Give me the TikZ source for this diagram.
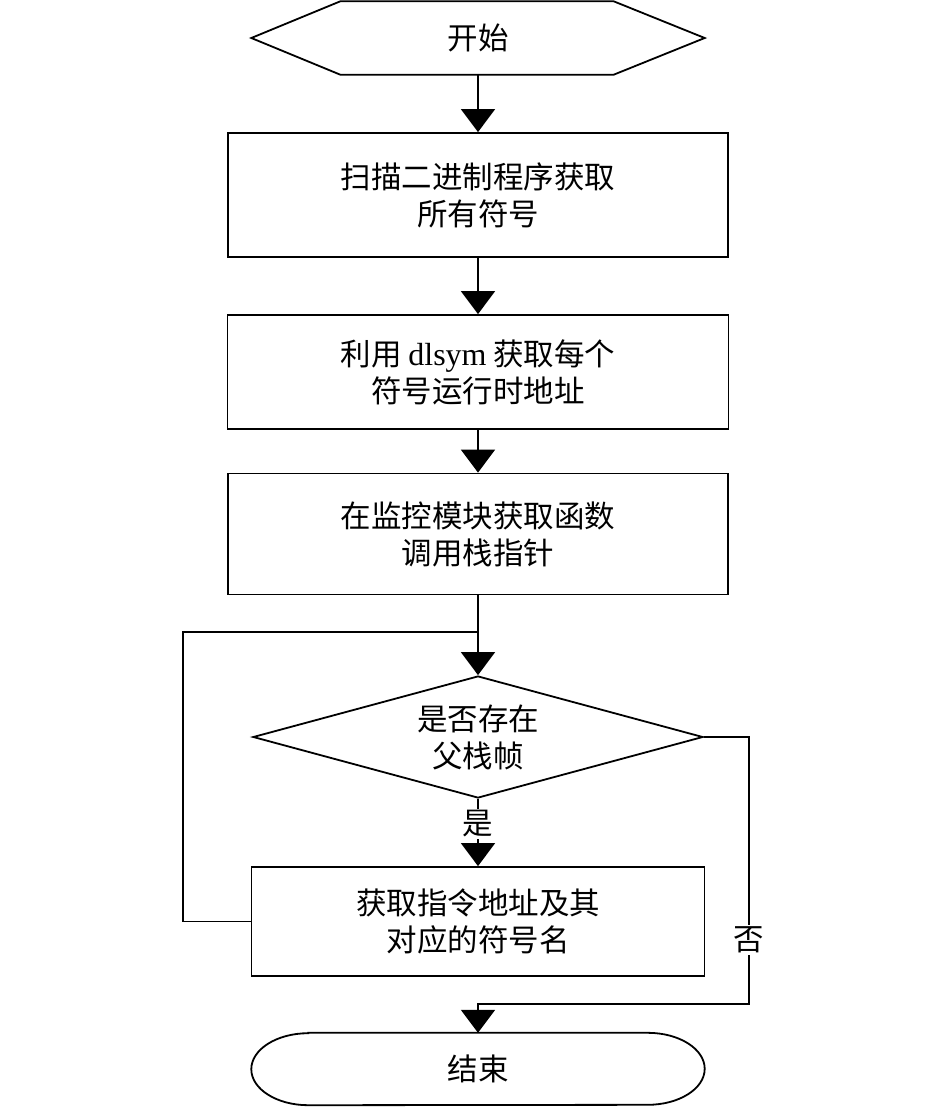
\documentclass[tikz,border=0pt]{standalone}
\usepackage{fontspec}
\setmainfont{Liberation Serif}
\newfontfamily\cjk{Noto Sans CJK SC}
\usetikzlibrary{arrows.meta,shapes.geometric}
\begin{document}
\begin{tikzpicture}[x=1pt,y=-1pt,
  every node/.style={font=\cjk\fontsize{30.5}{37}\selectfont, align=center, inner sep=0pt},
  ln/.style={line width=1.8pt},
  arr/.style={line width=1.8pt, -{Triangle[width=34pt,length=23pt]}},
  procbox/.style={draw, line width=1.8pt},
  lab/.style={fill=white, inner sep=2pt}]
\useasboundingbox (0,0) rectangle (945,1109);
% start (hexagon)
\node[minimum width=453pt, minimum height=73pt] (start) at (478,38) {开始};
\draw[ln, line join=miter] (start.west) -- ([xshift=89pt]start.north west) -- ([xshift=-91pt]start.north east)
  -- (start.east) -- ([xshift=-91pt]start.south east) -- ([xshift=89pt]start.south west) -- cycle;
% process boxes
\node[procbox, minimum width=500pt, minimum height=124pt] (b1) at (478,195) {扫描二进制程序获取\\所有符号};
\node[procbox, minimum width=501pt, minimum height=114pt] (b2) at (478,372) {利用 {\rmfamily\fontsize{32}{37}\selectfont dlsym} 获取每个\\符号运行时地址};
\node[procbox, minimum width=500pt, minimum height=121pt] (b3) at (478,534) {在监控模块获取函数\\调用栈指针};
\node[draw, diamond, line width=1.8pt, shape aspect=3.69, minimum width=450pt, minimum height=122pt] (dia) at (478,737) {是否存在\\父栈帧};
\node[procbox, minimum width=453pt, minimum height=109pt] (b4) at (478,921.5) {获取指令地址及其\\对应的符号名};
% end (terminal)
\node[minimum width=453pt, minimum height=72pt] (end) at (478,1069) {结束};
\draw[ln] ([xshift=57pt]end.north west) -- ([xshift=-57pt]end.north east)
  arc[start angle=90, end angle=-90, x radius=57pt, y radius=36pt]
  -- ([xshift=57pt]end.south west)
  arc[start angle=270, end angle=90, x radius=57pt, y radius=36pt] -- cycle;
% bend points
\coordinate (lpB) at (183,921.5);
\coordinate (lpT) at (183,632);
\coordinate (lpJ) at (478,632);
\coordinate (rA) at (749,737);
\coordinate (rB) at (749,1004);
\coordinate (rC) at (478,1004);
% connectors
\draw[arr] (start.south) -- (b1.north);
\draw[arr] (b1.south) -- (b2.north);
\draw[arr] (b2.south) -- (b3.north);
\draw[arr] (b3.south) -- (dia.north);
\draw[arr] (dia.south) -- (b4.north);
\draw[ln] (b4.west) -- (lpB) -- (lpT) -- (lpJ);
\draw[arr] (dia.east) -- (rA) -- (rB) -- (rC) -- (end.north);
% branch labels
\node[lab] (yes) at (478,824) {是};
\node[lab] (no) at (749,940) {否};
\end{tikzpicture}
\end{document}
